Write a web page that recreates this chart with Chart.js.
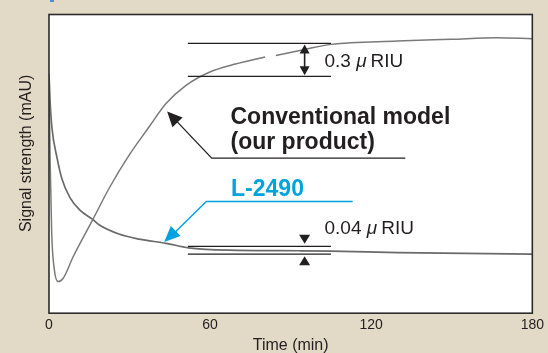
<!DOCTYPE html>
<html>
<head>
<meta charset="utf-8">
<script src="https://cdn.jsdelivr.net/npm/chart.js@4"></script>
<style>
  html, body { margin: 0; padding: 0; background: #e2dac6; }
  #wrap { position: relative; width: 548px; height: 353px; }
  #mark { position: absolute; left: 50px; top: 0; width: 4px; height: 2px; background: #4d8fd6; }
</style>
</head>
<body>
<div id="wrap">
  <div id="mark"></div>
  <canvas id="chart" width="548" height="353"></canvas>
</div>
<script>
// time (min) and signal (relative units, 0-100 of the plot height)
var convTime   = [0, 0.4, 1.0, 2.0, 3.4, 5.3, 9.0, 16.4, 22.5, 29.9, 37.3, 43.5, 50.9, 59.5, 69.4, 80.5, 82, 84.5, 95.2, 105, 129.7, 150, 166.7, 180];
var convSignal = [80, 52, 27, 14.5, 10.6, 11.7, 18.9, 31.5, 42, 53, 62.4, 70.1, 76.2, 80.6, 83.4, 85.8, null, 86.3, 88.3, 90, 91.1, 91.7, 92.2, 91.9];

var l2490Time   = [0, 0.4, 1.1, 3.0, 4.8, 7.8, 11.5, 16.3, 18.8, 26, 33.6, 43.6, 52, 67, 93, 105, 130, 155, 180];
var l2490Signal = [80, 71, 62, 52, 45, 38.7, 34.5, 31.4, 29.5, 26.5, 24.8, 23.4, 21.9, 21.1, 20.9, 20.8, 20.3, 20, 19.8];

var xTicks = [0, 60, 120, 180];

var FONT = '"Liberation Sans", Arial, Helvetica, sans-serif';
var INK = '#231f20';
var BLUE = '#00a3e0';

function pairs(xs, ys) {
    return xs.map(function(x, i) { return { x: x, y: ys[i] }; });
}

// annotation layout in data units (t, signal)
var notes = {
    upper: { t0: 51.7, t1: 105, hi: 90.3, lo: 79.3, tArrow: 95.2 },
    lower: { t0: 51.7, t1: 105, hi: 22.4, lo: 19.75, tArrow: 95.2 },
    convArrow: [[44, 67.5], [60.6, 51.9], [132.7, 51.9]],
    blueArrow: [[42.9, 23.8], [58.6, 37.4], [113.1, 37.4]]
};

function head(ctx, tx, ty, fx, fy, len, half) {
    var a = Math.atan2(ty - fy, tx - fx);
    ctx.beginPath();
    ctx.moveTo(tx, ty);
    ctx.lineTo(tx - len * Math.cos(a) + half * Math.sin(a), ty - len * Math.sin(a) - half * Math.cos(a));
    ctx.lineTo(tx - len * Math.cos(a) - half * Math.sin(a), ty - len * Math.sin(a) + half * Math.cos(a));
    ctx.closePath();
    ctx.fill();
}

function riuLabel(ctx, x, y, num) {
    ctx.font = '19px ' + FONT;
    ctx.fillText(num + ' ', x, y);
    x += ctx.measureText(num + ' ').width;
    ctx.font = 'italic 19px ' + FONT;
    ctx.fillText('\u03bc', x, y);
    x += ctx.measureText('\u03bc').width + 4;
    ctx.font = '19px ' + FONT;
    ctx.fillText('RIU', x, y);
}

var decor = {
    id: 'decor',
    beforeDatasetsDraw: function(chart) {
        var a = chart.chartArea, ctx = chart.ctx;
        ctx.save();
        ctx.fillStyle = '#ffffff';
        ctx.fillRect(a.left, a.top, a.right - a.left, a.bottom - a.top);
        ctx.restore();
    },
    afterDatasetsDraw: function(chart) {
        var a = chart.chartArea, ctx = chart.ctx;
        var sx = chart.scales.x, sy = chart.scales.y;
        var px = function(t) { return sx.getPixelForValue(t); };
        var py = function(v) { return sy.getPixelForValue(v); };
        ctx.save();

        // plot frame
        ctx.strokeStyle = '#2b2b2b';
        ctx.lineWidth = 1.6;
        ctx.strokeRect(a.left, a.top, a.right - a.left, a.bottom - a.top);

        // y axis title, sitting a little above the middle as in the original
        ctx.save();
        ctx.translate(27, py(53.5));
        ctx.rotate(-Math.PI / 2);
        ctx.textAlign = 'center';
        ctx.textBaseline = 'middle';
        ctx.fillStyle = INK;
        ctx.font = '16px ' + FONT;
        ctx.fillText('Signal strength (mAU)', 0, 0);
        ctx.restore();

        ctx.strokeStyle = INK;
        ctx.fillStyle = INK;
        ctx.lineWidth = 1.3;

        // 0.3 uRIU bracket
        var u = notes.upper;
        [u.hi, u.lo].forEach(function(v) {
            ctx.beginPath();
            ctx.moveTo(px(u.t0), py(v));
            ctx.lineTo(px(u.t1), py(v));
            ctx.stroke();
        });
        var ax = px(u.tArrow);
        ctx.lineWidth = 1.6;
        ctx.beginPath();
        ctx.moveTo(ax, py(u.hi) + 6);
        ctx.lineTo(ax, py(u.lo) - 6);
        ctx.stroke();
        ctx.lineWidth = 1.3;
        head(ctx, ax, py(u.hi) + 1, ax, py(u.hi) + 20, 9, 5);
        head(ctx, ax, py(u.lo) - 1, ax, py(u.lo) - 20, 9, 5);

        // 0.04 uRIU bracket
        var l = notes.lower;
        [l.hi, l.lo].forEach(function(v) {
            ctx.beginPath();
            ctx.moveTo(px(l.t0), py(v));
            ctx.lineTo(px(l.t1), py(v));
            ctx.stroke();
        });
        head(ctx, px(l.tArrow), py(l.hi) - 2.5, px(l.tArrow), py(l.hi) - 20, 9, 5.5);
        head(ctx, px(l.tArrow), py(l.lo) + 2, px(l.tArrow), py(l.lo) + 20, 9, 5.5);

        ctx.textBaseline = 'alphabetic';
        ctx.textAlign = 'left';
        riuLabel(ctx, px(102.6), py(82.3), '0.3');
        riuLabel(ctx, px(102.6), py(26.6), '0.04');

        // conventional model callout
        var c = notes.convArrow;
        ctx.beginPath();
        ctx.moveTo(px(c[2][0]), py(c[2][1]));
        ctx.lineTo(px(c[1][0]), py(c[1][1]));
        ctx.lineTo(px(c[0][0]) + 8, py(c[0][1]) + 8);
        ctx.stroke();
        head(ctx, px(c[0][0]), py(c[0][1]), px(c[1][0]), py(c[1][1]), 15, 7);
        ctx.font = 'bold 23px ' + FONT;
        ctx.fillText('Conventional model', px(67.6), py(63.2));
        ctx.fillText('(our product)', px(67.6), py(54.9));

        // L-2490 callout
        var b = notes.blueArrow;
        ctx.strokeStyle = BLUE;
        ctx.fillStyle = BLUE;
        ctx.lineWidth = 1.4;
        ctx.beginPath();
        ctx.moveTo(px(b[2][0]), py(b[2][1]));
        ctx.lineTo(px(b[1][0]), py(b[1][1]));
        ctx.lineTo(px(b[0][0]) + 8, py(b[0][1]) - 7);
        ctx.stroke();
        head(ctx, px(b[0][0]), py(b[0][1]), px(b[1][0]), py(b[1][1]), 16, 7);
        ctx.font = 'bold 23px ' + FONT;
        ctx.fillText('L-2490', px(67.8), py(39.4));

        ctx.restore();
    }
};

var config = {
    type: 'line',
    data: {
        datasets: [{
            label: 'Conventional model',
            data: pairs(convTime, convSignal),
            borderColor: '#7a7a7a',
            borderWidth: 1.5,
            pointRadius: 0,
            cubicInterpolationMode: 'monotone',
            spanGaps: false
        }, {
            label: 'L-2490',
            data: pairs(l2490Time, l2490Signal),
            borderColor: '#6a6a6a',
            borderWidth: 1.7,
            pointRadius: 0,
            cubicInterpolationMode: 'monotone'
        }]
    },
    options: {
        responsive: false,
        animation: false,
        devicePixelRatio: 1,
        layout: { padding: { left: 49, right: 12, top: 14.5, bottom: -1 } },
        plugins: { legend: { display: false }, tooltip: { enabled: false } },
        scales: {
            x: {
                type: 'linear',
                min: 0,
                max: 180,
                afterBuildTicks: function(scale) {
                    scale.ticks = xTicks.map(function(v) { return { value: v }; });
                },
                grid: { display: false, drawTicks: false },
                border: { display: false },
                ticks: {
                    padding: 4,
                    color: INK,
                    maxRotation: 0,
                    font: { family: FONT, size: 14 }
                },
                title: {
                    display: true,
                    text: 'Time (min)',
                    color: INK,
                    padding: 0,
                    font: { family: FONT, size: 16, lineHeight: 1 }
                }
            },
            y: {
                display: false,
                min: 0,
                max: 100
            }
        }
    },
    plugins: [decor]
};

window.onload = function() {
    var ctx = document.getElementById('chart').getContext('2d');
    window.myChart = new Chart(ctx, config);
};
</script>
</body>
</html>
